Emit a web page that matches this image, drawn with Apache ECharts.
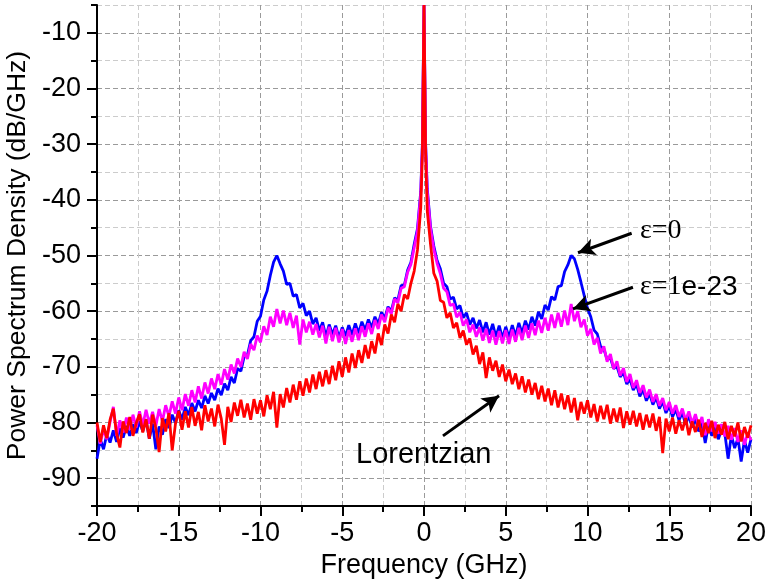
<!DOCTYPE html>
<html><head><meta charset="utf-8">
<script src="https://cdn.jsdelivr.net/npm/echarts/dist/echarts.min.js"></script>
<style>html,body{margin:0;padding:0;background:#fff}#c{width:768px;height:582px}</style>
</head><body><div id="c"></div>
<script>
const freq = [
-20,-19.8,-19.6,-19.4,-19.2,-19,-18.8,-18.6,-18.4,-18.2,
-18,-17.8,-17.6,-17.4,-17.2,-17,-16.8,-16.6,-16.4,-16.2,
-16,-15.8,-15.6,-15.4,-15.2,-15,-14.8,-14.6,-14.4,-14.2,
-14,-13.8,-13.6,-13.4,-13.2,-13,-12.8,-12.6,-12.4,-12.2,
-12,-11.8,-11.6,-11.4,-11.2,-11,-10.8,-10.6,-10.4,-10.2,
-10,-9.8,-9.6,-9.4,-9.2,-9,-8.8,-8.6,-8.4,-8.2,
-8,-7.8,-7.6,-7.4,-7.2,-7,-6.8,-6.6,-6.4,-6.2,
-6,-5.8,-5.6,-5.4,-5.2,-5,-4.8,-4.6,-4.4,-4.2,
-4,-3.8,-3.6,-3.4,-3.2,-3,-2.8,-2.6,-2.4,-2.2,
-2,-1.8,-1.6,-1.4,-1.2,-1,-0.8,-0.6,-0.4,-0.2,
-0.1,0,0.1,
0.2,0.4,0.6,0.8,1,1.2,1.4,1.6,1.8,2,
2.2,2.4,2.6,2.8,3,3.2,3.4,3.6,3.8,4,
4.2,4.4,4.6,4.8,5,5.2,5.4,5.6,5.8,6,
6.2,6.4,6.6,6.8,7,7.2,7.4,7.6,7.8,8,
8.2,8.4,8.6,8.8,9,9.2,9.4,9.6,9.8,10,
10.2,10.4,10.6,10.8,11,11.2,11.4,11.6,11.8,12,
12.2,12.4,12.6,12.8,13,13.2,13.4,13.6,13.8,14,
14.2,14.4,14.6,14.8,15,15.2,15.4,15.6,15.8,16,
16.2,16.4,16.6,16.8,17,17.2,17.4,17.6,17.8,18,
18.2,18.4,18.6,18.8,19,19.2,19.4,19.6,19.8,20
];
const blueVals = [
-86.5,-83.0,-84.8,-82.1,-83.6,-81.4,-83.5,-81.0,-82.7,-80.6,
-82.4,-80.3,-81.9,-79.8,-81.6,-79.5,-82.9,-80.2,-84.8,-80.7,
-82.2,-79.4,-81.0,-78.6,-80.1,-77.8,-79.5,-77.2,-78.7,-76.5,
-78.0,-76.0,-77.4,-75.2,-76.6,-74.7,-76.0,-73.9,-75.1,-73.0,
-74.2,-71.8,-72.9,-70.3,-70.8,-68.2,-67.9,-65.3,-64.6,-61.8,
-60.9,-58.0,-56.4,-53.6,-51.2,-50.0,-51.5,-52.8,-55.2,-55.0,
-57.3,-57.0,-59.4,-58.6,-60.8,-60.0,-62.3,-61.2,-63.5,-62.0,
-64.6,-62.4,-64.2,-62.6,-64.8,-62.9,-64.5,-62.5,-64.3,-62.2,
-64.0,-61.9,-63.4,-61.5,-63.0,-61.0,-62.3,-60.2,-61.3,-59.2,
-60.0,-57.6,-58.0,-55.4,-55.3,-52.6,-51.2,-48.0,-45.2,-38.5,
-30,-5,-30,
-38.0,-44.8,-48.3,-50.9,-52.4,-55.0,-55.6,-57.8,-57.5,-59.6,
-59.0,-61.2,-60.3,-62.4,-61.2,-63.1,-61.6,-63.8,-62.0,-64.2,
-62.3,-64.6,-62.6,-64.9,-62.8,-64.7,-62.5,-64.5,-62.1,-64.0,
-61.7,-63.3,-61.0,-62.6,-60.1,-61.4,-58.9,-59.8,-57.4,-58.0,
-55.6,-55.4,-52.9,-51.7,-50.0,-50.6,-52.5,-54.8,-57.2,-59.5,
-61.0,-63.4,-64.1,-66.3,-66.8,-68.7,-68.4,-70.3,-69.9,-71.8,
-71.0,-73.1,-72.2,-74.2,-73.1,-75.3,-74.0,-76.1,-74.8,-76.8,
-75.5,-77.5,-76.2,-78.3,-77.0,-79.0,-77.6,-79.6,-78.2,-80.4,
-78.7,-80.9,-79.3,-81.6,-80.0,-83.7,-80.5,-82.4,-80.9,-83.0,
-81.3,-82.0,-86.5,-82.3,-84.6,-82.8,-87.0,-83.2,-85.4,-83.0
];
const magentaVals = [
-80.5,-83.8,-81.2,-83.0,-79.9,-77.2,-82.4,-79.6,-81.8,-79.1,
-81.3,-78.6,-80.9,-78.0,-80.5,-77.7,-80.2,-78.1,-80.6,-77.6,
-79.8,-76.9,-78.9,-76.2,-78.4,-75.5,-77.8,-74.9,-77.0,-74.2,
-76.4,-73.5,-75.7,-72.8,-74.8,-72.1,-74.0,-71.3,-73.2,-70.4,
-72.3,-69.6,-71.2,-68.5,-70.0,-67.3,-68.6,-65.9,-67.0,-64.4,
-65.6,-62.7,-64.3,-61.0,-62.8,-59.6,-62.2,-59.9,-62.5,-60.3,
-63.0,-60.8,-66.0,-61.5,-63.8,-61.9,-64.2,-62.3,-64.7,-62.6,
-65.8,-62.8,-65.4,-63.0,-65.6,-63.2,-65.9,-63.4,-65.5,-63.1,
-65.2,-62.7,-64.6,-62.2,-64.1,-61.6,-63.2,-60.6,-62.0,-59.4,
-60.5,-57.8,-58.5,-55.9,-55.6,-53.0,-51.6,-48.6,-45.7,-39.0,
-30.5,-5,-30.5,
-38.6,-45.2,-48.9,-51.4,-53.3,-55.9,-56.5,-59.0,-58.7,-61.1,
-60.2,-62.6,-61.5,-63.8,-62.4,-64.6,-62.9,-65.3,-63.2,-65.7,
-63.5,-66.0,-63.6,-65.8,-63.4,-65.9,-63.3,-65.5,-63.0,-65.2,
-62.6,-64.8,-62.2,-64.3,-61.7,-63.9,-61.2,-63.5,-60.6,-63.0,
-60.3,-62.8,-59.9,-62.5,-58.7,-61.8,-60.0,-62.9,-61.5,-64.4,
-63.2,-66.0,-64.8,-67.6,-66.3,-69.1,-67.7,-70.4,-69.0,-71.6,
-70.2,-72.7,-71.3,-73.8,-72.4,-74.7,-73.3,-75.5,-74.1,-76.3,
-74.9,-77.0,-75.6,-77.8,-76.3,-78.4,-76.9,-79.0,-77.5,-79.6,
-78.0,-80.2,-78.5,-80.7,-79.0,-82.3,-79.4,-81.6,-79.9,-82.0,
-80.3,-82.5,-80.6,-83.1,-81.0,-83.5,-81.4,-84.0,-81.8,-83.2
];
const redVals = [
-80.0,-83.5,-80.5,-82.8,-79.5,-77.5,-82.0,-84.5,-79.8,-81.9,
-79.0,-82.4,-80.1,-78.5,-81.8,-79.4,-82.9,-78.6,-81.0,-85.3,
-79.2,-81.6,-78.3,-85.0,-80.2,-77.9,-81.3,-78.0,-80.9,-77.2,
-80.6,-78.1,-81.4,-76.9,-79.8,-77.5,-80.7,-76.8,-79.3,-84.0,
-77.2,-79.9,-76.4,-78.8,-75.9,-79.1,-76.6,-79.5,-75.8,-78.4,
-76.0,-78.9,-75.1,-77.6,-74.5,-80.9,-74.9,-77.3,-73.8,-76.4,
-73.2,-75.9,-72.6,-75.2,-72.1,-74.6,-71.4,-74.0,-70.9,-73.5,
-70.6,-73.1,-69.8,-72.4,-69.0,-71.8,-68.3,-71.0,-67.6,-70.2,
-67.0,-69.3,-66.1,-68.5,-65.4,-67.6,-64.0,-66.1,-62.4,-64.0,
-60.6,-62.0,-58.7,-60.0,-57.0,-57.8,-55.0,-52.8,-49.0,-41.5,
-32,-5,-32,
-42.0,-48.0,-53.2,-54.6,-58.1,-58.4,-61.2,-60.3,-63.0,-62.1,
-64.8,-63.5,-66.0,-64.9,-67.8,-66.2,-69.5,-67.4,-72.0,-68.3,
-70.7,-68.9,-71.8,-69.6,-72.6,-70.5,-73.1,-71.2,-74.0,-71.7,
-74.6,-72.3,-75.0,-72.9,-75.8,-73.4,-76.2,-73.9,-76.9,-74.2,
-77.3,-74.8,-77.6,-75.1,-78.2,-75.6,-79.6,-76.3,-78.4,-76.0,
-79.1,-76.7,-79.8,-77.0,-79.4,-76.8,-80.2,-77.5,-79.9,-77.3,
-81.0,-78.0,-80.4,-77.9,-80.7,-78.3,-81.3,-78.6,-80.9,-78.4,
-81.5,-79.0,-85.5,-79.3,-81.6,-79.1,-82.0,-79.6,-81.4,-79.2,
-82.3,-79.8,-81.7,-79.5,-82.6,-80.1,-81.9,-79.7,-82.8,-80.4,
-82.2,-79.9,-83.0,-80.6,-82.5,-80.0,-83.4,-80.8,-82.7,-80.5
];
const xMajorTicks = [-20,-15,-10,-5,0,5,10,15,20];
const yMajorTicks = [-90,-80,-70,-60,-50,-40,-30,-20,-10];
const seriesNames = ['ε=0','ε=1e-23','Lorentzian'];
const seriesColors = ['#0000ff','#ff00ff','#ff0000'];
const arrowLines = [
  [[12.7,-46.0],[9.42,-49.5]],
  [[12.78,-55.7],[9.11,-59.6]],
  [[1.16,-82.4],[4.59,-75.2]]
];

const pairs = vals => freq.map((f,i)=>[f, vals[i]]);
const sans = '"Liberation Sans", Arial, sans-serif';
const serif = '"Liberation Serif", "Times New Roman", serif';

const chart = echarts.init(document.getElementById('c'), null, {renderer:'canvas'});
const baseSeries = (name, vals, color) => ({
  name, type:'line', data: pairs(vals), showSymbol:false, symbol:'none',
  lineStyle:{color, width:2.8}, itemStyle:{color}, animation:false, xAxisIndex:0, yAxisIndex:0
});
const s3 = baseSeries(seriesNames[2], redVals, seriesColors[2]);
s3.markLine = {
  silent:true, animation:false, symbol:['none','arrow'], symbolSize:[13,17],
  lineStyle:{color:'#000', width:3, type:'solid'}, label:{show:false},
  data: arrowLines.map(l => [{coord:l[0]},{coord:l[1]}])
};
chart.setOption({
  animation:false,
  backgroundColor:'#fff',
  grid:{left:97, right:17, top:5, bottom:76, containLabel:false, outerBoundsMode:'none'},
  xAxis:[{
    type:'value', min:-20, max:20, interval:5, position:'bottom',
    name:'Frequency (GHz)', nameLocation:'middle', nameGap:46,
    nameTextStyle:{fontFamily:sans, fontSize:27, color:'#000'},
    axisLine:{show:true, onZero:false, lineStyle:{color:'#000', width:2}},
    axisTick:{show:true, length:10, lineStyle:{color:'#000', width:2}},
    axisLabel:{fontFamily:sans, fontSize:27, color:'#000', margin:14,
      formatter: v => xMajorTicks.includes(v) ? String(v) : ''},
    splitLine:{show:true, lineStyle:{color:'#9a9a9a', width:1, type:[5,3]}}
  },{
    type:'value', min:-20, max:20, interval:2.5, position:'bottom',
    axisLine:{show:false, onZero:false},
    axisTick:{show:true, length:6, lineStyle:{color:'#000', width:2}},
    axisLabel:{show:false},
    splitLine:{show:true, lineStyle:{color:['rgba(0,0,0,0)','#cccccc'], width:1, type:[5,3]}}
  }],
  yAxis:[{
    type:'value', min:-95, max:-5, interval:5, position:'left',
    name:'Power Spectrum Density (dB/GHz)', nameLocation:'middle', nameGap:52,
    nameTextStyle:{fontFamily:sans, fontSize:26.5, color:'#000'},
    axisLine:{show:true, onZero:false, lineStyle:{color:'#000', width:2}},
    axisTick:{show:true, length:6, lineStyle:{color:'#000', width:2}},
    axisLabel:{fontFamily:sans, fontSize:27, color:'#000', margin:16,
      formatter: v => yMajorTicks.includes(v) ? String(v) : ''},
    splitLine:{show:true, lineStyle:{color:['#cccccc','#9a9a9a'], width:1, type:[5,3]}}
  },{
    type:'value', min:-95, max:-5, position:'left',
    axisLine:{show:false, onZero:false},
    axisTick:{show:true, length:10, lineStyle:{color:'#000', width:2}, customValues: yMajorTicks},
    axisLabel:{show:false},
    splitLine:{show:false}
  }],
  series:[
    baseSeries(seriesNames[0], blueVals, seriesColors[0]),
    baseSeries(seriesNames[1], magentaVals, seriesColors[1]),
    s3
  ],
  graphic:[
    {type:'text', left:640, top:217, z:100, style:{text:'ε=0', fontFamily:serif, fontSize:28, fill:'#000'}},
    {type:'text', left:640, top:273, z:100, style:{text:'{a|ε=1}{b|e-23}', fill:'#000',
      rich:{a:{fontFamily:serif, fontSize:28, fill:'#000'}, b:{fontFamily:sans, fontSize:28, fill:'#000'}}}},
    {type:'text', left:356, top:440, z:100, style:{text:'Lorentzian', fontFamily:sans, fontSize:29, fill:'#000'}}
  ]
});
</script></body></html>
